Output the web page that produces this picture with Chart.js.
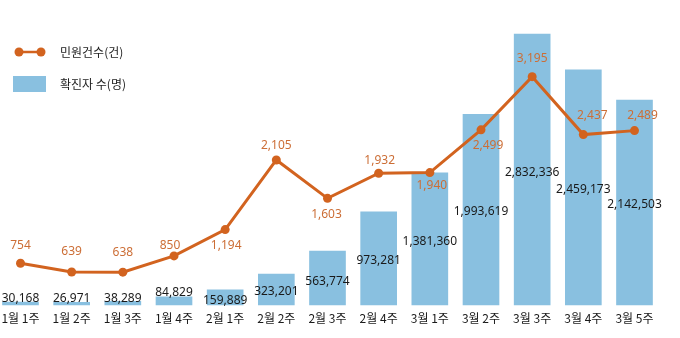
<!DOCTYPE html>
<html>
<head>
<meta charset="utf-8">
<script src="https://cdn.jsdelivr.net/npm/chart.js@4"></script>
<style>
  html, body { margin: 0; padding: 0; background: #fff; }
  #wrap { width: 680px; height: 338px; position: relative; }
</style>
</head>
<body>
<div id="wrap"><canvas id="canvas-1"></canvas></div>
<script>
const weeks = ['1월 1주', '1월 2주', '1월 3주', '1월 4주', '2월 1주', '2월 2주', '2월 3주',
  '2월 4주', '3월 1주', '3월 2주', '3월 3주', '3월 4주', '3월 5주'];
const confirmed = [30168, 26971, 38289, 84829, 159889, 323201, 563774, 973281,
  1381360, 1993619, 2832336, 2459173, 2142503];
const complaints = [754, 639, 638, 850, 1194, 2105, 1603, 1932, 1940, 2499, 3195, 2437, 2489];

// label nudges so the numbers stay clear of the line
const barLabelDy = [-4, -4, -3, -4, 11, 17, 30, 49, 69, 97, 138, 120, 104];
const lineLabelShift = [[0, -18], [0, -20], [0, -20], [-4, -10], [1, 16], [0, -14], [-1, 16],
  [1, -13], [2, 13], [7, 16], [0, -18], [9, -19], [8, -15]];

const ORANGE = '#d2631f';
const BLUE = '#89c0e0';
const fmt = v => v.toLocaleString('en-US');

const valueLabels = {
  id: 'valueLabels',
  afterDatasetsDraw(chart) {
    const ctx = chart.ctx;
    ctx.save();
    ctx.textAlign = 'center';
    ctx.textBaseline = 'middle';
    ctx.font = '12px "Noto Sans", sans-serif';
    ctx.fillStyle = '#1a1a1a';
    chart.getDatasetMeta(1).data.forEach((bar, i) => {
      ctx.fillText(fmt(confirmed[i]), bar.x, bar.y + barLabelDy[i]);
    });
    ctx.fillStyle = '#cc6e36';
    chart.getDatasetMeta(0).data.forEach((pt, i) => {
      ctx.fillText(fmt(complaints[i]), pt.x + lineLabelShift[i][0], pt.y + lineLabelShift[i][1]);
    });
    ctx.restore();
  }
};

const sideLegend = {
  id: 'sideLegend',
  afterDraw(chart) {
    const ctx = chart.ctx;
    const ds = chart.data.datasets;
    ctx.save();
    // line marker
    ctx.strokeStyle = ORANGE;
    ctx.lineWidth = 2.5;
    ctx.beginPath();
    ctx.moveTo(19, 52);
    ctx.lineTo(41, 52);
    ctx.stroke();
    ctx.fillStyle = ORANGE;
    [19, 41].forEach(x => {
      ctx.beginPath();
      ctx.arc(x, 52, 4.5, 0, Math.PI * 2);
      ctx.fill();
    });
    // bar marker
    ctx.fillStyle = BLUE;
    ctx.fillRect(13, 76, 33, 16);
    ctx.fillStyle = '#222';
    ctx.font = '12px "Noto Sans CJK KR", sans-serif';
    ctx.textBaseline = 'middle';
    ctx.fillText(ds[0].label, 60, 52);
    ctx.fillText(ds[1].label, 60, 84);
    ctx.restore();
  }
};

const comboChart = new Chart(document.getElementById('canvas-1'), {
  type: 'bar',
  data: {
    labels: weeks,
    datasets: [{
      type: 'line',
      label: '민원건수(건)',
      data: complaints,
      yAxisID: 'y1',
      borderColor: ORANGE,
      backgroundColor: ORANGE,
      borderWidth: 3,
      pointRadius: 4.5,
      pointBackgroundColor: ORANGE,
      pointBorderWidth: 0,
      tension: 0,
      clip: false,
      order: 0
    }, {
      label: '확진자 수(명)',
      data: confirmed,
      yAxisID: 'y',
      backgroundColor: BLUE,
      barThickness: 36,
      clip: false,
      order: 1
    }]
  },
  options: {
    responsive: true,
    maintainAspectRatio: false,
    animation: false,
    layout: { padding: { left: 20.5, right: 45.5, top: 20, bottom: 6.6 } },
    plugins: {
      legend: { display: false },
      tooltip: { enabled: false }
    },
    scales: {
      x: {
        offset: false,
        grid: { display: false, drawTicks: false },
        border: { display: false },
        ticks: {
          color: '#1a1a1a',
          padding: 6,
          maxRotation: 0,
          autoSkip: false,
          font: { family: '"Noto Sans CJK KR", sans-serif', size: 12 }
        },
        afterFit(scale) {
          scale.paddingLeft = 0;
          scale.paddingRight = 0;
        }
      },
      y: { display: false, min: 0, max: 2980000 },
      y1: { display: false, min: 208, max: 3936 }
    }
  },
  plugins: [valueLabels, sideLegend]
});
</script>
</body>
</html>
